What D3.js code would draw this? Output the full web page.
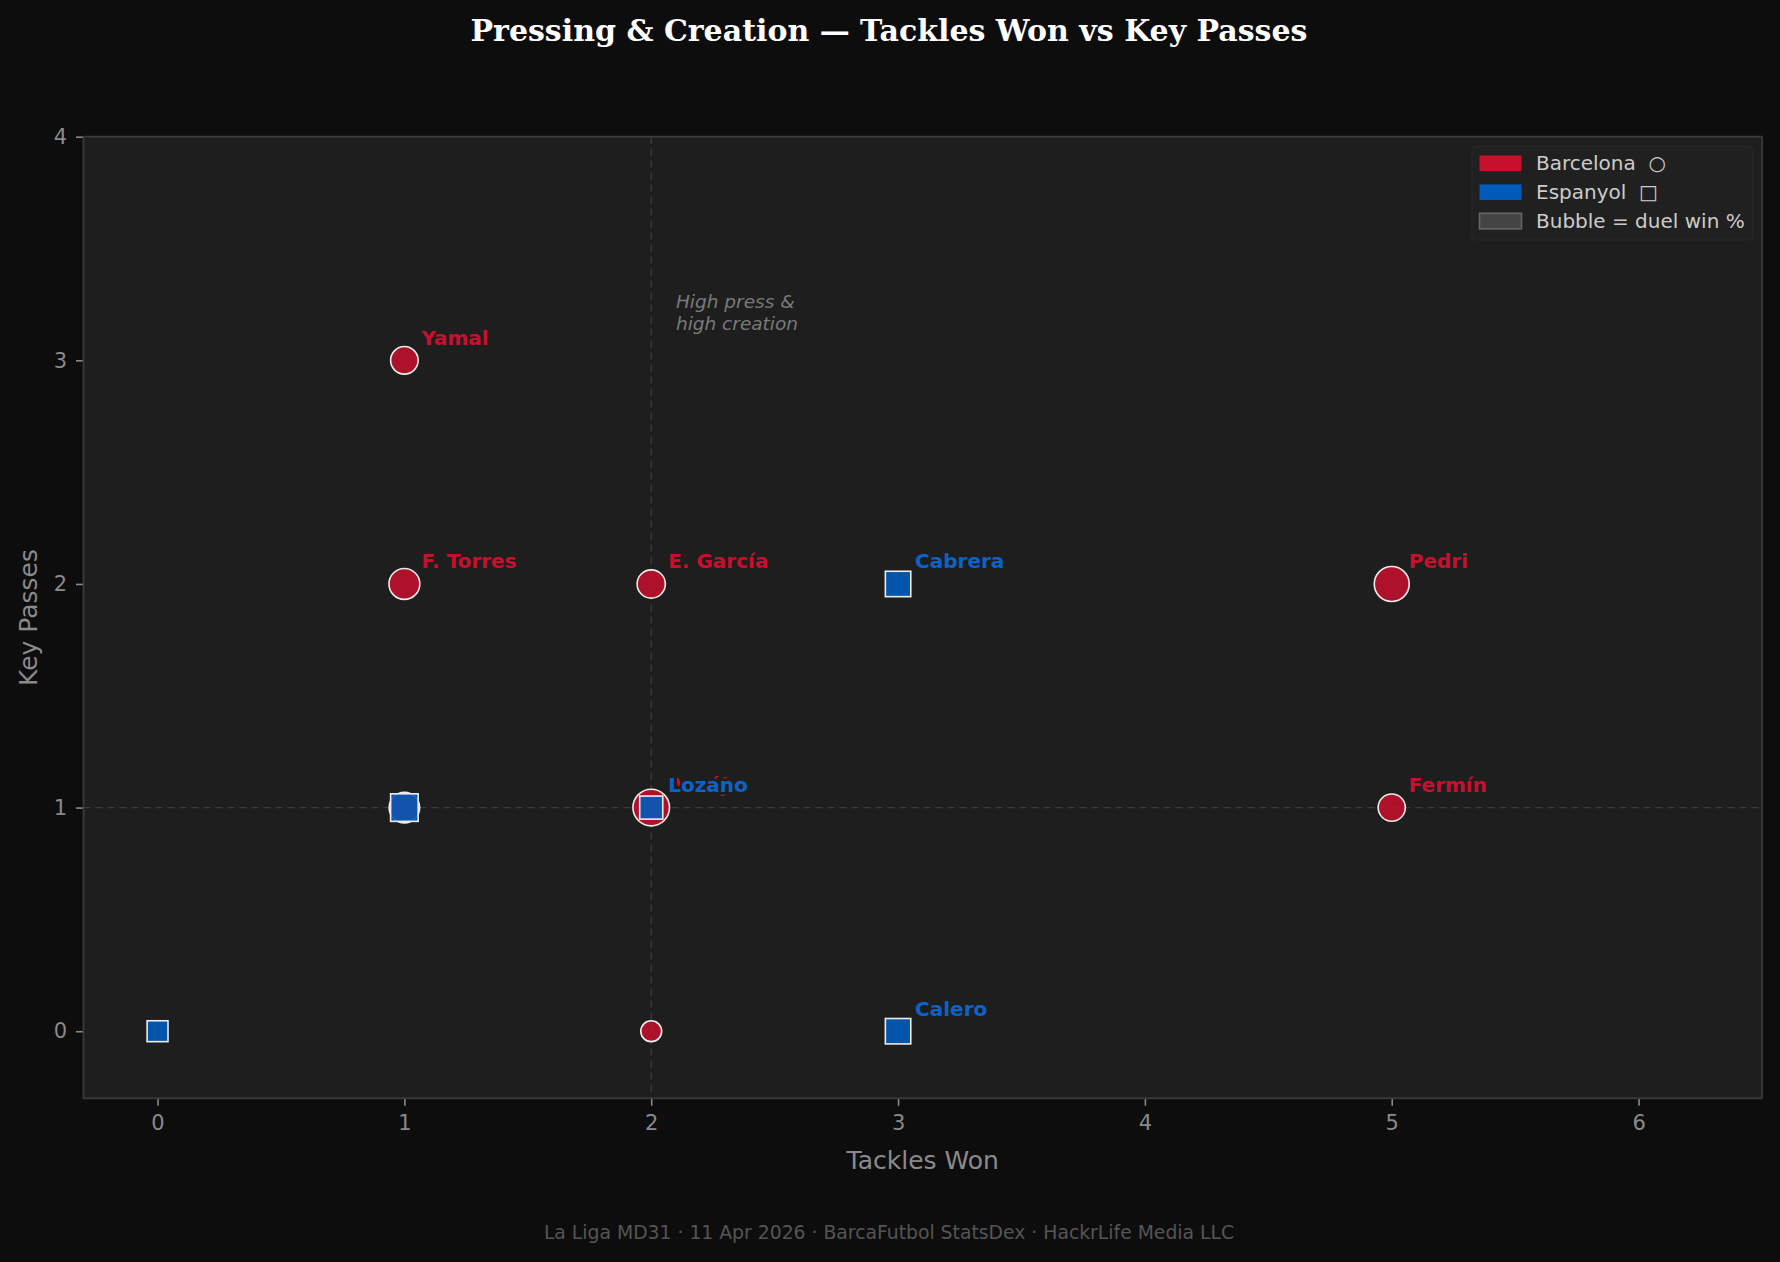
<!DOCTYPE html>
<html>
<head>
<meta charset="utf-8">
<script src="https://cdn.jsdelivr.net/npm/d3@7"></script>
<style>
  html, body { margin: 0; padding: 0; background: #0d0d0d; }
  svg { display: block; font-family: "DejaVu Sans", sans-serif; }
  text { white-space: pre; }
</style>
</head>
<body>
<svg id="chart" width="1780" height="1262"></svg>
<script>
// Barcelona players (circles)
const barcaNames = ["Yamal", "F. Torres", "E. García", "Pedri", "Fermín", "Araújo", "", ""];
const barcaTackles = [1, 1, 2, 5, 5, 2, 1, 2];
const barcaKeyPasses = [3, 2, 2, 2, 1, 1, 1, 0];
const barcaDuelPct = [42, 52, 44, 66, 41, 72, 51, 25];

// Espanyol players (squares)
const espNames = ["Cabrera", "Calero", "Lozano", "", ""];
const espTackles = [3, 3, 2, 1, 0];
const espKeyPasses = [2, 0, 1, 1, 0];
const espDuelPct = [36, 36, 30, 42, 25];

const xTicks = [0, 1, 2, 3, 4, 5, 6];
const yTicks = [0, 1, 2, 3, 4];
const medianTackles = 2;
const medianKeyPasses = 1;

const W = 1780, H = 1262;
const plot = { left: 83.5, right: 1762, top: 136.7, bottom: 1098.3 };

const BARCA = '#c8102e', ESP = '#005bbb';
const AX_BG = '#1e1e1e';

const svg = d3.select('#chart');

svg.append('rect').attr('width', W).attr('height', H).attr('fill', '#0d0d0d');

const x = d3.scaleLinear().domain([-0.3, 6.5]).range([plot.left, plot.right]);
const y = d3.scaleLinear().domain([-0.3, 4]).range([plot.bottom, plot.top]);
const size = d3.scaleSqrt().domain([0, 100]).range([0, 45]);

// axes background
svg.append('rect')
    .attr('x', plot.left).attr('y', plot.top)
    .attr('width', plot.right - plot.left).attr('height', plot.bottom - plot.top)
    .attr('fill', AX_BG);

// median reference lines
svg.append('line')
    .attr('x1', x(medianTackles)).attr('x2', x(medianTackles))
    .attr('y1', plot.top).attr('y2', plot.bottom)
    .attr('stroke', '#3c3c3c').attr('stroke-width', 1.4).attr('stroke-dasharray', '7,5');
svg.append('line')
    .attr('x1', plot.left).attr('x2', plot.right)
    .attr('y1', y(medianKeyPasses)).attr('y2', y(medianKeyPasses))
    .attr('stroke', '#3c3c3c').attr('stroke-width', 1.4).attr('stroke-dasharray', '7,5');

// quadrant note
svg.append('text')
    .attr('x', x(2.1)).attr('y', y(3.3) + 15)
    .attr('fill', '#7a7a7a').attr('font-size', 18.5).attr('font-style', 'italic')
    .selectAll('tspan').data(['High press &', 'high creation']).enter()
    .append('tspan')
        .attr('x', x(2.1))
        .attr('dy', (d, i) => i === 0 ? 0 : 21.5)
        .text(d => d);

// axes
const xAxis = svg.append('g')
    .attr('transform', `translate(0,${plot.bottom})`)
    .call(d3.axisBottom(x).tickValues(xTicks).tickFormat(d3.format('d')).tickSize(7.5).tickPadding(9));
const yAxis = svg.append('g')
    .attr('transform', `translate(${plot.left},0)`)
    .call(d3.axisLeft(y).tickValues(yTicks).tickFormat(d3.format('d')).tickSize(7.5).tickPadding(9));

[xAxis, yAxis].forEach(g => {
    g.select('.domain').remove();
    g.selectAll('.tick line').attr('stroke', '#8a8a8a').attr('stroke-width', 1.6);
    g.selectAll('.tick text')
        .attr('fill', '#8a8a8a')
        .attr('font-size', 21)
        .attr('font-family', '"DejaVu Sans", sans-serif');
});

// spines
svg.append('rect')
    .attr('x', plot.left).attr('y', plot.top)
    .attr('width', plot.right - plot.left).attr('height', plot.bottom - plot.top)
    .attr('fill', 'none').attr('stroke', '#3a3a3a').attr('stroke-width', 1.8);

// markers
const barca = barcaNames.map((n, i) => ({ name: n, t: barcaTackles[i], k: barcaKeyPasses[i], d: barcaDuelPct[i] }));
const esp = espNames.map((n, i) => ({ name: n, t: espTackles[i], k: espKeyPasses[i], d: espDuelPct[i] }));

svg.append('g').selectAll('circle')
    .data(barca)
    .enter()
    .append('circle')
        .attr('cx', d => x(d.t))
        .attr('cy', d => y(d.k))
        .attr('r', d => size(d.d) / 2 - 0.8)
        .attr('fill', BARCA).attr('fill-opacity', 0.85)
        .attr('stroke', '#ececec').attr('stroke-width', 1.6);

svg.append('g').selectAll('rect')
    .data(esp)
    .enter()
    .append('rect')
        .attr('x', d => x(d.t) - size(d.d) / 2 + 0.8)
        .attr('y', d => y(d.k) - size(d.d) / 2 + 0.8)
        .attr('width', d => size(d.d) - 1.6)
        .attr('height', d => size(d.d) - 1.6)
        .attr('fill', ESP).attr('fill-opacity', 0.9)
        .attr('stroke', '#ececec').attr('stroke-width', 1.6);

// player labels, each with a halo in the axes colour
const labels = svg.append('g')
    .attr('font-size', 20).attr('font-weight', 'bold');
[[barca, BARCA], [esp, '#0a63c8']].forEach(([rows, col]) => {
    labels.selectAll(null)
        .data(rows.filter(d => d.name !== ''))
        .enter()
        .append('text')
            .attr('x', d => x(d.t) + 17)
            .attr('y', d => y(d.k) - 15.5)
            .attr('fill', col)
            .attr('stroke', AX_BG).attr('stroke-width', 5.5)
            .attr('stroke-linejoin', 'round')
            .attr('paint-order', 'stroke')
            .text(d => d.name);
});

// legend
const legendRows = [
    { label: 'Barcelona  ○', fill: BARCA, stroke: 'none' },
    { label: 'Espanyol  □', fill: ESP, stroke: 'none' },
    { label: 'Bubble = duel win %', fill: '#444444', stroke: '#666666' }
];
const legend = svg.append('g');
legend.append('rect')
    .attr('x', 1472).attr('y', 146.5).attr('width', 281).attr('height', 93.5)
    .attr('rx', 4)
    .attr('fill', '#202020').attr('stroke', '#282828').attr('stroke-width', 1.2);
const lr = legend.selectAll('g.row')
    .data(legendRows)
    .enter()
    .append('g')
        .attr('transform', (d, i) => `translate(0,${163.3 + i * 28.9})`);
lr.append('rect')
    .attr('x', 1479.5).attr('y', -7.8).attr('width', 42).attr('height', 15.6)
    .attr('fill', d => d.fill).attr('stroke', d => d.stroke).attr('stroke-width', 1.6);
lr.append('text')
    .attr('x', 1536).attr('y', 7)
    .attr('fill', '#cccccc').attr('font-size', 20)
    .text(d => d.label);

// axis titles
svg.append('text')
    .attr('x', (plot.left + plot.right) / 2).attr('y', 1169)
    .attr('text-anchor', 'middle')
    .attr('fill', '#8a8a8a').attr('font-size', 25)
    .text('Tackles Won');
svg.append('text')
    .attr('transform', `translate(37,${(plot.top + plot.bottom) / 2}) rotate(-90)`)
    .attr('text-anchor', 'middle')
    .attr('fill', '#8a8a8a').attr('font-size', 25)
    .text('Key Passes');

// title and footer
svg.append('text')
    .attr('x', 889).attr('y', 41)
    .attr('text-anchor', 'middle')
    .attr('fill', '#ffffff').attr('font-size', 30).attr('font-weight', 'bold')
    .attr('font-family', '"DejaVu Serif", serif')
    .text('Pressing & Creation — Tackles Won vs Key Passes');
svg.append('text')
    .attr('x', 889).attr('y', 1239)
    .attr('text-anchor', 'middle')
    .attr('fill', '#555555').attr('font-size', 18.8)
    .text('La Liga MD31 · 11 Apr 2026 · BarcaFutbol StatsDex · HackrLife Media LLC');
</script>
</body>
</html>
